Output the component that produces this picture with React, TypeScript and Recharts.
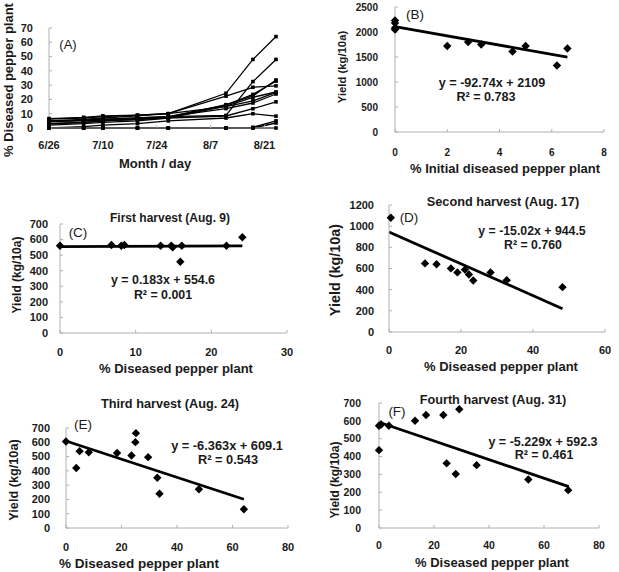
import React from 'react';
import { LineChart, Line, ScatterChart, Scatter, XAxis, YAxis, ReferenceLine } from 'recharts';

const FONT = '"Liberation Sans", Arial, sans-serif';
const INK = '#1a1a1a';
const AXIS = '#b0b0b0';

// (A) disease progress per plot, surveyed on the same days (0 = 6/26)
const surveyDays = [0, 9, 14, 23, 31, 46, 53, 59];
const dateTicks = [0, 14, 28, 42, 56];
const dateLabels = ['6/26', '7/10', '7/24', '8/7', '8/21'];
const diseasedByPlot = [
  [5, 6, 7, 8.5, 10, 24.3, 48, 64],
  [4.5, 5.5, 6, 7, 8, 8.8, 32.5, 48],
  [6.2, 7, 8, 9, 10, 22.3, 28.5, 29.5],
  [3.3, 4, 5, 6, 7.5, 16.3, 22.5, 33.6],
  [2.8, 4, 5, 6, 8, 16, 23.5, 32.8],
  [2, 3, 4, 5, 7, 15.3, 21.5, 25.2],
  [6.6, 7.5, 8.5, 9, 10, 15, 19, 25],
  [5, 5.5, 6, 7, 8, 13.6, 17.5, 23.8],
  [4.5, 5, 5.5, 6, 7, 8.4, 13.5, 18.3],
  [0, 1, 2, 3, 5, 7, 10, 8.3],
  [0, 0, 0, 0, 0, 0, 0.5, 5],
  [0, 0, 0, 0, 0, 0, 0, 3.5],
  [0, 0, 0, 0, 0, 0, 0, 0],
];

// (B) total yield vs initial disease
const initialDiseased = [0, 0, 0, 0, 2, 2.8, 3.3, 4.5, 5, 6.2, 6.6];
const totalYield = [2230, 2180, 2080, 2050, 1720, 1800, 1750, 1610, 1720, 1330, 1670];

// (C) first harvest, Aug. 9
const firstDiseased = [0, 6.8, 8.1, 8.5, 13.3, 14.7, 14.9, 15.9, 16.1, 22, 24.1];
const firstYield = [560, 565, 560, 565, 560, 560, 550, 458, 560, 560, 615];

// (D) second harvest, Aug. 17
const secondDiseased = [0.5, 10, 13.2, 17.2, 19, 21.1, 22.2, 23.4, 28.2, 32.7, 48.2];
const secondYield = [1080, 648, 640, 601, 563, 589, 544, 487, 563, 490, 424];

// (E) third harvest, Aug. 24
const thirdDiseased = [0, 3.7, 4.9, 8.2, 18.4, 23.6, 25, 25.2, 29.6, 32.9, 33.7, 47.9, 64.1];
const thirdYield = [606, 420, 538, 530, 525, 508, 601, 664, 496, 352, 240, 271, 131];

// (F) fourth harvest, Aug. 31
const fourthDiseased = [0, 0.8, 0, 3.6, 13.1, 17.1, 23.4, 24.6, 27.9, 29.2, 35.5, 54.3, 68.8];
const fourthYield = [573, 580, 436, 573, 601, 633, 633, 362, 302, 665, 352, 272, 212];

type Box = { left: number; right: number; top: number; bottom: number };

const Txt = ({ x, y, size, bold = true, rotate = false, children }: any) => (
  <div
    style={{
      position: 'absolute',
      left: x,
      top: y,
      transform: `translate(-50%, -50%)${rotate ? ' rotate(-90deg)' : ''}`,
      fontSize: size,
      fontWeight: bold ? 700 : 400,
      fontFamily: FONT,
      color: INK,
      whiteSpace: 'nowrap',
      lineHeight: 1,
    }}
  >
    {children}
  </div>
);

const Diamond = (props: any) => {
  const { cx, cy } = props;
  const r = 4.2;
  return <polygon points={`${cx},${cy - r} ${cx + r},${cy} ${cx},${cy + r} ${cx - r},${cy}`} fill="#000" />;
};

const axisProps = (fontSize: number, margin: number) => ({
  tick: { fontSize, fontWeight: 700, fill: INK, fontFamily: FONT },
  axisLine: { stroke: AXIS },
  tickLine: { stroke: AXIS },
  tickSize: -3,
  tickMargin: margin,
  interval: 0 as const,
});

interface ScatterPanelProps {
  plot: Box;
  xs: number[];
  ys: number[];
  xDomain: [number, number];
  xTicks: number[];
  yDomain: [number, number];
  yTicks: number[];
  slope: number;
  intercept: number;
  fitMax: number;
  fontSize: number;
  xMargin: number;
  yMargin: number;
}

function ScatterPanel(p: ScatterPanelProps) {
  const w = p.plot.right - p.plot.left;
  const h = p.plot.bottom - p.plot.top;
  const data = p.xs.map((x, i) => ({ x, y: p.ys[i] }));
  return (
    <div style={{ position: 'absolute', left: p.plot.left - 60, top: p.plot.top - 15 }}>
      <ScatterChart width={w + 75} height={h + 45} margin={{ top: 15, right: 15, bottom: 0, left: 0 }}>
        <XAxis type="number" dataKey="x" domain={p.xDomain} ticks={p.xTicks} height={30} {...axisProps(p.fontSize, p.xMargin)} />
        <YAxis type="number" dataKey="y" domain={p.yDomain} ticks={p.yTicks} width={60} {...axisProps(p.fontSize, p.yMargin)} />
        <ReferenceLine
          segment={[
            { x: 0, y: p.intercept },
            { x: p.fitMax, y: p.slope * p.fitMax + p.intercept },
          ]}
          stroke="#000"
          strokeWidth={2.8}
        />
        <Scatter data={data} shape={(s: any) => <Diamond {...s} />} isAnimationActive={false} />
      </ScatterChart>
    </div>
  );
}

function ProgressPanel() {
  const plot: Box = { left: 49, right: 276, top: 28, bottom: 128 };
  const rows = surveyDays.map((day, i) => {
    const row: Record<string, number> = { day };
    diseasedByPlot.forEach((s, k) => (row[`p${k}`] = s[i]));
    return row;
  });
  return (
    <div style={{ position: 'absolute', left: plot.left - 60, top: plot.top - 15 }}>
      <LineChart
        width={plot.right - plot.left + 75}
        height={plot.bottom - plot.top + 45}
        data={rows}
        margin={{ top: 15, right: 15, bottom: 0, left: 0 }}
      >
        <XAxis
          type="number"
          dataKey="day"
          domain={[0, 59]}
          ticks={dateTicks}
          tickFormatter={(v: number) => dateLabels[dateTicks.indexOf(v)]}
          height={30}
          {...axisProps(11, 16)}
        />
        <YAxis type="number" domain={[0, 70]} ticks={[0, 10, 20, 30, 40, 50, 60, 70]} width={60} {...axisProps(11, 19)} />
        {diseasedByPlot.map((_, k) => (
          <Line
            key={k}
            dataKey={`p${k}`}
            stroke="#000"
            strokeWidth={1.3}
            isAnimationActive={false}
            dot={(d: any) => (
              <rect key={`d${k}-${d.index}`} x={d.cx - 1.8} y={d.cy - 1.8} width={3.6} height={3.6} fill="#000" />
            )}
          />
        ))}
      </LineChart>
    </div>
  );
}

export default function App() {
  return (
    <div style={{ position: 'absolute', left: 0, top: 0, width: 619, height: 572, background: '#fff', overflow: 'hidden' }}>
      <ProgressPanel />
      <Txt x={68} y={44} size={13} bold={false}>(A)</Txt>
      <Txt x={155} y={163} size={13}>Month / day</Txt>
      <Txt x={8} y={80} size={13} rotate>% Diseased pepper plant</Txt>

      <ScatterPanel
        plot={{ left: 395, right: 604, top: 7, bottom: 132 }}
        xs={initialDiseased}
        ys={totalYield}
        xDomain={[0, 8]}
        xTicks={[0, 2, 4, 6, 8]}
        yDomain={[0, 2500]}
        yTicks={[0, 500, 1000, 1500, 2000, 2500]}
        slope={-92.74}
        intercept={2109}
        fitMax={6.6}
        fontSize={10}
        xMargin={20}
        yMargin={20}
      />
      <Txt x={415} y={15} size={13.5} bold={false}>(B)</Txt>
      <Txt x={492} y={83} size={12.6}>y = -92.74x + 2109</Txt>
      <Txt x={486} y={97} size={12.6}>R² = 0.783</Txt>
      <Txt x={505} y={168} size={13}>% Initial diseased pepper plant</Txt>
      <Txt x={343} y={67} size={11.3} rotate>Yield (kg/10a)</Txt>

      <ScatterPanel
        plot={{ left: 60, right: 287, top: 224, bottom: 333 }}
        xs={firstDiseased}
        ys={firstYield}
        xDomain={[0, 30]}
        xTicks={[0, 10, 20, 30]}
        yDomain={[0, 700]}
        yTicks={[0, 100, 200, 300, 400, 500, 600, 700]}
        slope={0.183}
        intercept={554.6}
        fitMax={24.1}
        fontSize={11}
        xMargin={18}
        yMargin={15}
      />
      <Txt x={170} y={218} size={12}>First harvest (Aug. 9)</Txt>
      <Txt x={78} y={233} size={13.5} bold={false}>(C)</Txt>
      <Txt x={163} y={280} size={12.4}>y = 0.183x + 554.6</Txt>
      <Txt x={163} y={295} size={12.4}>R² = 0.001</Txt>
      <Txt x={176} y={368} size={13}>% Diseased pepper plant</Txt>
      <Txt x={17} y={275} size={12} rotate>Yield (kg/10a)</Txt>

      <ScatterPanel
        plot={{ left: 389, right: 605, top: 205, bottom: 332 }}
        xs={secondDiseased}
        ys={secondYield}
        xDomain={[0, 60]}
        xTicks={[0, 20, 40, 60]}
        yDomain={[0, 1200]}
        yTicks={[0, 200, 400, 600, 800, 1000, 1200]}
        slope={-15.02}
        intercept={944.5}
        fitMax={48.2}
        fontSize={11}
        xMargin={17}
        yMargin={18}
      />
      <Txt x={503} y={202} size={12.7}>Second harvest (Aug. 17)</Txt>
      <Txt x={409} y={218} size={13.5} bold={false}>(D)</Txt>
      <Txt x={532} y={231} size={12.3}>y = -15.02x + 944.5</Txt>
      <Txt x={533} y={245} size={12.3}>R² = 0.760</Txt>
      <Txt x={501} y={366} size={13}>% Diseased pepper plant</Txt>
      <Txt x={335} y={270} size={14.4} rotate>Yield (kg/10a)</Txt>

      <ScatterPanel
        plot={{ left: 66, right: 288, top: 428, bottom: 528 }}
        xs={thirdDiseased}
        ys={thirdYield}
        xDomain={[0, 80]}
        xTicks={[0, 20, 40, 60, 80]}
        yDomain={[0, 700]}
        yTicks={[0, 100, 200, 300, 400, 500, 600, 700]}
        slope={-6.363}
        intercept={609.1}
        fitMax={64.1}
        fontSize={11}
        xMargin={18}
        yMargin={19}
      />
      <Txt x={170} y={404} size={12.7}>Third harvest (Aug. 24)</Txt>
      <Txt x={83} y={425} size={13.5} bold={false}>(E)</Txt>
      <Txt x={227} y={446} size={12.8}>y = -6.363x + 609.1</Txt>
      <Txt x={228} y={460} size={12.8}>R² = 0.543</Txt>
      <Txt x={139} y={564} size={13.5}>% Diseased pepper plant</Txt>
      <Txt x={14} y={480} size={12.7} rotate>Yield (kg/10a)</Txt>

      <ScatterPanel
        plot={{ left: 379, right: 599, top: 403, bottom: 528 }}
        xs={fourthDiseased}
        ys={fourthYield}
        xDomain={[0, 80]}
        xTicks={[0, 20, 40, 60, 80]}
        yDomain={[0, 700]}
        yTicks={[0, 100, 200, 300, 400, 500, 600, 700]}
        slope={-5.229}
        intercept={592.3}
        fitMax={69}
        fontSize={10.5}
        xMargin={17}
        yMargin={21}
      />
      <Txt x={493} y={400} size={12.7}>Fourth harvest (Aug. 31)</Txt>
      <Txt x={397} y={412} size={13.5} bold={false}>(F)</Txt>
      <Txt x={543} y={442} size={12.5}>y = -5.229x + 592.3</Txt>
      <Txt x={544} y={455} size={12.5}>R² = 0.461</Txt>
      <Txt x={492} y={562} size={13}>% Diseased pepper plant</Txt>
      <Txt x={335} y={480} size={12} rotate>Yield (kg/10a)</Txt>
    </div>
  );
}
